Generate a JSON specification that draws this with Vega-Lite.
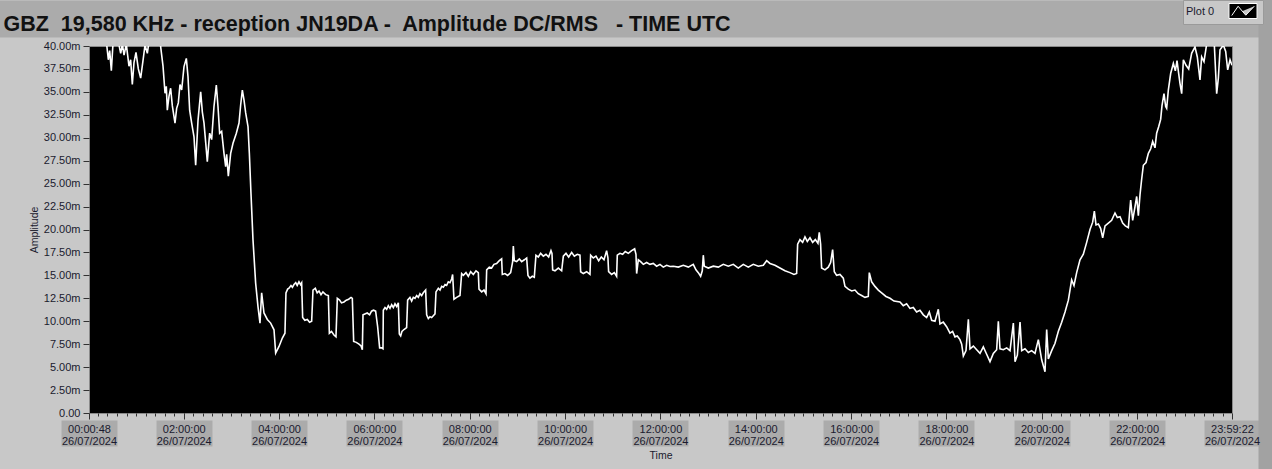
{
  "$schema": "https://vega.github.io/schema/vega-lite/v6.json",
  "width": 1143,
  "height": 367,
  "autosize": {"type": "none"},
  "padding": {"left": 89, "top": 46, "right": 40, "bottom": 56},
  "background": "#c8c8c8",
  "config": {
    "view": {"fill": "#000000", "stroke": "#8a8a8a", "strokeWidth": 1},
    "axis": {"labelFont": "Liberation Sans", "titleFont": "Liberation Sans", "grid": false}
  },
  "data": {
    "values": [
      {"hour": 0.013, "amplitude": 41.5},
      {"hour": 0.223, "amplitude": 42.0},
      {"hour": 0.377, "amplitude": 40.5},
      {"hour": 0.419, "amplitude": 38.5},
      {"hour": 0.447, "amplitude": 39.5},
      {"hour": 0.482, "amplitude": 37.3},
      {"hour": 0.517, "amplitude": 40.3},
      {"hour": 0.608, "amplitude": 41.0},
      {"hour": 0.678, "amplitude": 39.2},
      {"hour": 0.713, "amplitude": 40.2},
      {"hour": 0.748, "amplitude": 39.0},
      {"hour": 0.796, "amplitude": 40.2},
      {"hour": 0.852, "amplitude": 37.8},
      {"hour": 0.887, "amplitude": 38.5},
      {"hour": 0.922, "amplitude": 35.8},
      {"hour": 0.957, "amplitude": 38.2},
      {"hour": 0.999, "amplitude": 39.3},
      {"hour": 1.048, "amplitude": 37.5},
      {"hour": 1.097, "amplitude": 36.5},
      {"hour": 1.146, "amplitude": 38.4},
      {"hour": 1.188, "amplitude": 40.1},
      {"hour": 1.237, "amplitude": 39.2},
      {"hour": 1.272, "amplitude": 40.5},
      {"hour": 1.412, "amplitude": 42.0},
      {"hour": 1.503, "amplitude": 40.5},
      {"hour": 1.566, "amplitude": 37.8},
      {"hour": 1.608, "amplitude": 34.85},
      {"hour": 1.635, "amplitude": 35.6},
      {"hour": 1.656, "amplitude": 33.0},
      {"hour": 1.691, "amplitude": 34.5},
      {"hour": 1.726, "amplitude": 35.4},
      {"hour": 1.761, "amplitude": 33.5},
      {"hour": 1.817, "amplitude": 31.6},
      {"hour": 1.852, "amplitude": 33.2},
      {"hour": 1.887, "amplitude": 33.8},
      {"hour": 1.922, "amplitude": 35.8},
      {"hour": 1.957, "amplitude": 35.2},
      {"hour": 2.006, "amplitude": 37.75},
      {"hour": 2.055, "amplitude": 38.65},
      {"hour": 2.09, "amplitude": 36.65},
      {"hour": 2.125, "amplitude": 33.0},
      {"hour": 2.167, "amplitude": 31.6},
      {"hour": 2.216, "amplitude": 30.1},
      {"hour": 2.251, "amplitude": 27.0},
      {"hour": 2.3, "amplitude": 31.9},
      {"hour": 2.356, "amplitude": 35.0},
      {"hour": 2.391, "amplitude": 32.8},
      {"hour": 2.426, "amplitude": 31.6},
      {"hour": 2.461, "amplitude": 29.5},
      {"hour": 2.495, "amplitude": 27.4},
      {"hour": 2.544, "amplitude": 30.5},
      {"hour": 2.586, "amplitude": 29.8},
      {"hour": 2.635, "amplitude": 33.4},
      {"hour": 2.684, "amplitude": 35.75},
      {"hour": 2.719, "amplitude": 33.4},
      {"hour": 2.754, "amplitude": 30.5},
      {"hour": 2.796, "amplitude": 30.7},
      {"hour": 2.845, "amplitude": 28.3},
      {"hour": 2.88, "amplitude": 26.85},
      {"hour": 2.901, "amplitude": 28.2},
      {"hour": 2.936, "amplitude": 25.8},
      {"hour": 2.985, "amplitude": 28.3},
      {"hour": 3.034, "amplitude": 29.4},
      {"hour": 3.104, "amplitude": 30.5},
      {"hour": 3.16, "amplitude": 31.6},
      {"hour": 3.195, "amplitude": 33.6},
      {"hour": 3.23, "amplitude": 35.2},
      {"hour": 3.265, "amplitude": 34.1},
      {"hour": 3.3, "amplitude": 32.7},
      {"hour": 3.349, "amplitude": 31.2},
      {"hour": 3.377, "amplitude": 28.3},
      {"hour": 3.411, "amplitude": 23.96},
      {"hour": 3.453, "amplitude": 18.9},
      {"hour": 3.509, "amplitude": 14.16},
      {"hour": 3.558, "amplitude": 11.6},
      {"hour": 3.6, "amplitude": 9.8},
      {"hour": 3.635, "amplitude": 13.1},
      {"hour": 3.684, "amplitude": 10.9},
      {"hour": 3.754, "amplitude": 10.2},
      {"hour": 3.824, "amplitude": 9.8},
      {"hour": 3.894, "amplitude": 9.07},
      {"hour": 3.929, "amplitude": 6.53},
      {"hour": 3.999, "amplitude": 7.25},
      {"hour": 4.069, "amplitude": 8.17},
      {"hour": 4.124, "amplitude": 8.7},
      {"hour": 4.145, "amplitude": 13.1},
      {"hour": 4.18, "amplitude": 13.5},
      {"hour": 4.208, "amplitude": 13.6},
      {"hour": 4.25, "amplitude": 13.9},
      {"hour": 4.28, "amplitude": 13.7},
      {"hour": 4.313, "amplitude": 14.0},
      {"hour": 4.35, "amplitude": 14.2},
      {"hour": 4.38, "amplitude": 13.9},
      {"hour": 4.418, "amplitude": 14.3},
      {"hour": 4.45, "amplitude": 14.0},
      {"hour": 4.474, "amplitude": 14.2},
      {"hour": 4.495, "amplitude": 10.4},
      {"hour": 4.54, "amplitude": 10.1},
      {"hour": 4.593, "amplitude": 10.2},
      {"hour": 4.64, "amplitude": 9.9},
      {"hour": 4.684, "amplitude": 10.0},
      {"hour": 4.712, "amplitude": 13.4},
      {"hour": 4.76, "amplitude": 13.6},
      {"hour": 4.8, "amplitude": 13.1},
      {"hour": 4.838, "amplitude": 13.3},
      {"hour": 4.88, "amplitude": 12.9},
      {"hour": 4.92, "amplitude": 13.2},
      {"hour": 4.978, "amplitude": 12.9},
      {"hour": 5.034, "amplitude": 12.8},
      {"hour": 5.055, "amplitude": 8.7},
      {"hour": 5.1, "amplitude": 8.9},
      {"hour": 5.152, "amplitude": 8.5},
      {"hour": 5.194, "amplitude": 8.3},
      {"hour": 5.222, "amplitude": 12.5},
      {"hour": 5.27, "amplitude": 12.3},
      {"hour": 5.31, "amplitude": 12.0},
      {"hour": 5.362, "amplitude": 12.1},
      {"hour": 5.41, "amplitude": 12.3},
      {"hour": 5.46, "amplitude": 12.4},
      {"hour": 5.51, "amplitude": 12.6},
      {"hour": 5.537, "amplitude": 12.5},
      {"hour": 5.565, "amplitude": 7.8},
      {"hour": 5.62, "amplitude": 7.7},
      {"hour": 5.677, "amplitude": 7.5},
      {"hour": 5.72, "amplitude": 7.3},
      {"hour": 5.747, "amplitude": 6.9},
      {"hour": 5.761, "amplitude": 10.7},
      {"hour": 5.8, "amplitude": 10.8},
      {"hour": 5.85, "amplitude": 10.9},
      {"hour": 5.9, "amplitude": 10.7},
      {"hour": 5.94, "amplitude": 11.1},
      {"hour": 5.98, "amplitude": 11.2},
      {"hour": 6.026, "amplitude": 11.1},
      {"hour": 6.068, "amplitude": 9.4},
      {"hour": 6.11, "amplitude": 7.1},
      {"hour": 6.152, "amplitude": 7.1},
      {"hour": 6.18, "amplitude": 7.0},
      {"hour": 6.187, "amplitude": 11.2},
      {"hour": 6.222, "amplitude": 11.5},
      {"hour": 6.257, "amplitude": 11.3},
      {"hour": 6.292, "amplitude": 11.7},
      {"hour": 6.327, "amplitude": 11.4},
      {"hour": 6.362, "amplitude": 11.8},
      {"hour": 6.397, "amplitude": 11.5},
      {"hour": 6.432, "amplitude": 11.9},
      {"hour": 6.467, "amplitude": 11.6},
      {"hour": 6.502, "amplitude": 12.0},
      {"hour": 6.523, "amplitude": 8.6},
      {"hour": 6.551, "amplitude": 8.4},
      {"hour": 6.578, "amplitude": 8.9},
      {"hour": 6.62, "amplitude": 9.1},
      {"hour": 6.676, "amplitude": 9.3},
      {"hour": 6.697, "amplitude": 12.3},
      {"hour": 6.746, "amplitude": 12.6},
      {"hour": 6.781, "amplitude": 12.2},
      {"hour": 6.816, "amplitude": 12.6},
      {"hour": 6.851, "amplitude": 12.5},
      {"hour": 6.886, "amplitude": 12.8},
      {"hour": 6.921, "amplitude": 12.6},
      {"hour": 6.956, "amplitude": 13.0},
      {"hour": 6.991, "amplitude": 12.8},
      {"hour": 7.026, "amplitude": 13.1},
      {"hour": 7.075, "amplitude": 13.4},
      {"hour": 7.096, "amplitude": 10.7},
      {"hour": 7.131, "amplitude": 10.3},
      {"hour": 7.166, "amplitude": 10.5},
      {"hour": 7.201, "amplitude": 10.4},
      {"hour": 7.236, "amplitude": 10.6},
      {"hour": 7.271, "amplitude": 10.8},
      {"hour": 7.292, "amplitude": 13.2},
      {"hour": 7.341, "amplitude": 13.6},
      {"hour": 7.376, "amplitude": 13.4},
      {"hour": 7.411, "amplitude": 13.8},
      {"hour": 7.446, "amplitude": 13.7},
      {"hour": 7.481, "amplitude": 14.0},
      {"hour": 7.515, "amplitude": 13.9},
      {"hour": 7.55, "amplitude": 14.3},
      {"hour": 7.585, "amplitude": 14.2},
      {"hour": 7.62, "amplitude": 14.6},
      {"hour": 7.641, "amplitude": 15.1},
      {"hour": 7.669, "amplitude": 12.4},
      {"hour": 7.725, "amplitude": 12.6},
      {"hour": 7.795, "amplitude": 12.8},
      {"hour": 7.83, "amplitude": 15.2},
      {"hour": 7.865, "amplitude": 15.0},
      {"hour": 7.921, "amplitude": 15.3},
      {"hour": 7.97, "amplitude": 14.9},
      {"hour": 8.019, "amplitude": 15.4},
      {"hour": 8.075, "amplitude": 15.1},
      {"hour": 8.131, "amplitude": 15.5},
      {"hour": 8.18, "amplitude": 15.3},
      {"hour": 8.194, "amplitude": 13.5},
      {"hour": 8.25, "amplitude": 13.2},
      {"hour": 8.299, "amplitude": 13.4},
      {"hour": 8.341, "amplitude": 13.0},
      {"hour": 8.355, "amplitude": 15.6},
      {"hour": 8.41, "amplitude": 15.9},
      {"hour": 8.459, "amplitude": 15.8},
      {"hour": 8.508, "amplitude": 16.2},
      {"hour": 8.564, "amplitude": 16.3},
      {"hour": 8.62, "amplitude": 16.6},
      {"hour": 8.669, "amplitude": 16.8},
      {"hour": 8.683, "amplitude": 15.1},
      {"hour": 8.739, "amplitude": 15.2},
      {"hour": 8.795, "amplitude": 15.0},
      {"hour": 8.858, "amplitude": 15.3},
      {"hour": 8.9, "amplitude": 16.5},
      {"hour": 8.914, "amplitude": 18.2},
      {"hour": 8.935, "amplitude": 16.6},
      {"hour": 8.984, "amplitude": 16.5},
      {"hour": 9.04, "amplitude": 16.8},
      {"hour": 9.089, "amplitude": 16.5},
      {"hour": 9.145, "amplitude": 16.7},
      {"hour": 9.194, "amplitude": 16.9},
      {"hour": 9.221, "amplitude": 15.0},
      {"hour": 9.263, "amplitude": 14.7},
      {"hour": 9.312, "amplitude": 14.9},
      {"hour": 9.354, "amplitude": 14.8},
      {"hour": 9.389, "amplitude": 17.2},
      {"hour": 9.438, "amplitude": 17.0},
      {"hour": 9.487, "amplitude": 17.4},
      {"hour": 9.543, "amplitude": 17.1},
      {"hour": 9.599, "amplitude": 17.3},
      {"hour": 9.655, "amplitude": 17.0},
      {"hour": 9.704, "amplitude": 17.7},
      {"hour": 9.725, "amplitude": 17.4},
      {"hour": 9.739, "amplitude": 15.6},
      {"hour": 9.788, "amplitude": 15.5},
      {"hour": 9.858, "amplitude": 15.8},
      {"hour": 9.928, "amplitude": 15.5},
      {"hour": 9.963, "amplitude": 17.1},
      {"hour": 10.019, "amplitude": 17.4},
      {"hour": 10.075, "amplitude": 17.0},
      {"hour": 10.138, "amplitude": 17.5},
      {"hour": 10.194, "amplitude": 17.1},
      {"hour": 10.256, "amplitude": 17.3},
      {"hour": 10.312, "amplitude": 17.2},
      {"hour": 10.326, "amplitude": 15.4},
      {"hour": 10.382, "amplitude": 15.2},
      {"hour": 10.452, "amplitude": 15.4},
      {"hour": 10.522, "amplitude": 15.1},
      {"hour": 10.536, "amplitude": 17.2},
      {"hour": 10.592, "amplitude": 16.9},
      {"hour": 10.648, "amplitude": 17.1},
      {"hour": 10.704, "amplitude": 16.6},
      {"hour": 10.76, "amplitude": 17.0},
      {"hour": 10.816, "amplitude": 16.7},
      {"hour": 10.871, "amplitude": 17.7},
      {"hour": 10.899, "amplitude": 16.9},
      {"hour": 10.913, "amplitude": 15.4},
      {"hour": 10.976, "amplitude": 15.1},
      {"hour": 11.032, "amplitude": 15.3},
      {"hour": 11.081, "amplitude": 14.9},
      {"hour": 11.095, "amplitude": 17.2},
      {"hour": 11.151, "amplitude": 17.4},
      {"hour": 11.207, "amplitude": 17.3},
      {"hour": 11.263, "amplitude": 17.6},
      {"hour": 11.326, "amplitude": 17.4},
      {"hour": 11.396, "amplitude": 17.7},
      {"hour": 11.459, "amplitude": 17.9},
      {"hour": 11.487, "amplitude": 17.3},
      {"hour": 11.501, "amplitude": 15.2},
      {"hour": 11.536, "amplitude": 16.7},
      {"hour": 11.585, "amplitude": 16.5},
      {"hour": 11.641, "amplitude": 16.2},
      {"hour": 11.711, "amplitude": 16.4},
      {"hour": 11.78, "amplitude": 16.2},
      {"hour": 11.85, "amplitude": 16.3},
      {"hour": 11.92, "amplitude": 16.0},
      {"hour": 11.99, "amplitude": 16.2},
      {"hour": 12.06, "amplitude": 15.9},
      {"hour": 12.13, "amplitude": 16.1},
      {"hour": 12.2, "amplitude": 15.97},
      {"hour": 12.27, "amplitude": 16.0},
      {"hour": 12.375, "amplitude": 15.9},
      {"hour": 12.48, "amplitude": 16.1},
      {"hour": 12.585, "amplitude": 15.9},
      {"hour": 12.689, "amplitude": 16.2},
      {"hour": 12.745, "amplitude": 15.6},
      {"hour": 12.794, "amplitude": 15.3},
      {"hour": 12.843, "amplitude": 14.9},
      {"hour": 12.878, "amplitude": 15.5},
      {"hour": 12.899, "amplitude": 17.2},
      {"hour": 12.92, "amplitude": 16.0},
      {"hour": 13.004, "amplitude": 15.8},
      {"hour": 13.109, "amplitude": 16.0},
      {"hour": 13.214, "amplitude": 15.9},
      {"hour": 13.319, "amplitude": 16.2},
      {"hour": 13.424, "amplitude": 16.0},
      {"hour": 13.528, "amplitude": 16.2},
      {"hour": 13.633, "amplitude": 15.8},
      {"hour": 13.738, "amplitude": 16.2},
      {"hour": 13.843, "amplitude": 15.9},
      {"hour": 13.948, "amplitude": 16.2},
      {"hour": 14.053, "amplitude": 16.0},
      {"hour": 14.158, "amplitude": 16.1},
      {"hour": 14.228, "amplitude": 16.6},
      {"hour": 14.298, "amplitude": 16.3},
      {"hour": 14.402, "amplitude": 16.1},
      {"hour": 14.507, "amplitude": 15.8},
      {"hour": 14.612, "amplitude": 15.5},
      {"hour": 14.717, "amplitude": 15.3},
      {"hour": 14.801, "amplitude": 15.1},
      {"hour": 14.857, "amplitude": 15.2},
      {"hour": 14.878, "amplitude": 18.4},
      {"hour": 14.927, "amplitude": 18.9},
      {"hour": 14.983, "amplitude": 18.6},
      {"hour": 15.032, "amplitude": 19.2},
      {"hour": 15.081, "amplitude": 18.7},
      {"hour": 15.137, "amplitude": 19.1},
      {"hour": 15.193, "amplitude": 18.6},
      {"hour": 15.249, "amplitude": 18.9},
      {"hour": 15.304, "amplitude": 18.5},
      {"hour": 15.332, "amplitude": 19.7},
      {"hour": 15.36, "amplitude": 18.4},
      {"hour": 15.381, "amplitude": 15.8},
      {"hour": 15.451, "amplitude": 15.6},
      {"hour": 15.521, "amplitude": 15.9},
      {"hour": 15.57, "amplitude": 16.4},
      {"hour": 15.612, "amplitude": 17.8},
      {"hour": 15.647, "amplitude": 15.4},
      {"hour": 15.696, "amplitude": 15.0},
      {"hour": 15.766, "amplitude": 15.1},
      {"hour": 15.836, "amplitude": 14.7},
      {"hour": 15.871, "amplitude": 13.8},
      {"hour": 15.941, "amplitude": 13.5},
      {"hour": 16.011, "amplitude": 13.3},
      {"hour": 16.081, "amplitude": 13.4},
      {"hour": 16.15, "amplitude": 13.0},
      {"hour": 16.22, "amplitude": 12.8},
      {"hour": 16.29, "amplitude": 12.6},
      {"hour": 16.36, "amplitude": 12.7},
      {"hour": 16.381, "amplitude": 15.3},
      {"hour": 16.43, "amplitude": 14.3},
      {"hour": 16.5, "amplitude": 13.8},
      {"hour": 16.57, "amplitude": 13.4},
      {"hour": 16.64, "amplitude": 13.1},
      {"hour": 16.731, "amplitude": 12.7},
      {"hour": 16.815, "amplitude": 12.5},
      {"hour": 16.899, "amplitude": 12.2},
      {"hour": 17.024, "amplitude": 12.1},
      {"hour": 17.094, "amplitude": 11.7},
      {"hour": 17.164, "amplitude": 11.9},
      {"hour": 17.234, "amplitude": 11.4},
      {"hour": 17.304, "amplitude": 11.5},
      {"hour": 17.374, "amplitude": 11.0},
      {"hour": 17.444, "amplitude": 11.2},
      {"hour": 17.514, "amplitude": 10.7},
      {"hour": 17.584, "amplitude": 10.4},
      {"hour": 17.64, "amplitude": 11.0},
      {"hour": 17.689, "amplitude": 10.1},
      {"hour": 17.759, "amplitude": 10.0},
      {"hour": 17.829, "amplitude": 11.3},
      {"hour": 17.864, "amplitude": 9.7},
      {"hour": 17.933, "amplitude": 9.9},
      {"hour": 18.003, "amplitude": 9.4},
      {"hour": 18.073, "amplitude": 8.7},
      {"hour": 18.129, "amplitude": 8.9},
      {"hour": 18.178, "amplitude": 8.3},
      {"hour": 18.227, "amplitude": 8.4},
      {"hour": 18.283, "amplitude": 8.0},
      {"hour": 18.319, "amplitude": 7.5},
      {"hour": 18.354, "amplitude": 6.2},
      {"hour": 18.41, "amplitude": 6.8},
      {"hour": 18.459, "amplitude": 10.2},
      {"hour": 18.494, "amplitude": 7.0},
      {"hour": 18.564, "amplitude": 7.3},
      {"hour": 18.634, "amplitude": 6.9},
      {"hour": 18.704, "amplitude": 6.5},
      {"hour": 18.773, "amplitude": 7.2},
      {"hour": 18.843, "amplitude": 6.4},
      {"hour": 18.913, "amplitude": 5.6},
      {"hour": 18.983, "amplitude": 6.5},
      {"hour": 19.053, "amplitude": 6.9},
      {"hour": 19.088, "amplitude": 10.0},
      {"hour": 19.123, "amplitude": 7.0},
      {"hour": 19.193, "amplitude": 6.9},
      {"hour": 19.263, "amplitude": 7.1},
      {"hour": 19.333, "amplitude": 6.8},
      {"hour": 19.403, "amplitude": 9.8},
      {"hour": 19.438, "amplitude": 5.6},
      {"hour": 19.487, "amplitude": 6.3},
      {"hour": 19.543, "amplitude": 9.9},
      {"hour": 19.578, "amplitude": 6.8},
      {"hour": 19.647, "amplitude": 7.0},
      {"hour": 19.717, "amplitude": 6.6},
      {"hour": 19.787, "amplitude": 6.8},
      {"hour": 19.857, "amplitude": 6.5},
      {"hour": 19.927, "amplitude": 8.0},
      {"hour": 19.997, "amplitude": 5.8},
      {"hour": 20.067, "amplitude": 4.5},
      {"hour": 20.102, "amplitude": 9.1},
      {"hour": 20.137, "amplitude": 5.9},
      {"hour": 20.207, "amplitude": 6.8},
      {"hour": 20.277, "amplitude": 7.6},
      {"hour": 20.347, "amplitude": 8.9},
      {"hour": 20.417, "amplitude": 9.9},
      {"hour": 20.487, "amplitude": 11.0},
      {"hour": 20.557, "amplitude": 12.3},
      {"hour": 20.626, "amplitude": 14.5},
      {"hour": 20.675, "amplitude": 13.9},
      {"hour": 20.731, "amplitude": 15.3},
      {"hour": 20.801, "amplitude": 16.7},
      {"hour": 20.871, "amplitude": 17.3},
      {"hour": 20.941, "amplitude": 18.6},
      {"hour": 21.011, "amplitude": 20.0},
      {"hour": 21.067, "amplitude": 20.8},
      {"hour": 21.102, "amplitude": 22.0},
      {"hour": 21.137, "amplitude": 20.5},
      {"hour": 21.186, "amplitude": 20.6},
      {"hour": 21.235, "amplitude": 20.1},
      {"hour": 21.277, "amplitude": 19.1},
      {"hour": 21.326, "amplitude": 20.4},
      {"hour": 21.396, "amplitude": 20.7},
      {"hour": 21.465, "amplitude": 21.0},
      {"hour": 21.535, "amplitude": 21.8},
      {"hour": 21.584, "amplitude": 21.3},
      {"hour": 21.64, "amplitude": 21.4},
      {"hour": 21.696, "amplitude": 20.7},
      {"hour": 21.752, "amplitude": 20.4},
      {"hour": 21.815, "amplitude": 20.2},
      {"hour": 21.864, "amplitude": 23.2},
      {"hour": 21.906, "amplitude": 21.0},
      {"hour": 21.955, "amplitude": 22.5},
      {"hour": 21.99, "amplitude": 23.6},
      {"hour": 22.025, "amplitude": 21.5},
      {"hour": 22.06, "amplitude": 23.8},
      {"hour": 22.095, "amplitude": 25.5},
      {"hour": 22.13, "amplitude": 27.0},
      {"hour": 22.186, "amplitude": 27.3},
      {"hour": 22.235, "amplitude": 28.3},
      {"hour": 22.284, "amplitude": 28.8},
      {"hour": 22.325, "amplitude": 29.6},
      {"hour": 22.374, "amplitude": 28.9},
      {"hour": 22.409, "amplitude": 30.5},
      {"hour": 22.451, "amplitude": 31.2},
      {"hour": 22.493, "amplitude": 32.0},
      {"hour": 22.521, "amplitude": 33.5},
      {"hour": 22.563, "amplitude": 34.8},
      {"hour": 22.598, "amplitude": 33.4},
      {"hour": 22.619, "amplitude": 33.2},
      {"hour": 22.654, "amplitude": 35.2},
      {"hour": 22.703, "amplitude": 37.0},
      {"hour": 22.759, "amplitude": 38.1},
      {"hour": 22.801, "amplitude": 37.3},
      {"hour": 22.836, "amplitude": 38.4},
      {"hour": 22.871, "amplitude": 37.0},
      {"hour": 22.899, "amplitude": 35.9},
      {"hour": 22.934, "amplitude": 34.8},
      {"hour": 22.969, "amplitude": 38.5},
      {"hour": 23.025, "amplitude": 37.9},
      {"hour": 23.081, "amplitude": 37.5},
      {"hour": 23.143, "amplitude": 39.2},
      {"hour": 23.213, "amplitude": 39.9},
      {"hour": 23.262, "amplitude": 38.8},
      {"hour": 23.318, "amplitude": 36.3},
      {"hour": 23.353, "amplitude": 38.8},
      {"hour": 23.402, "amplitude": 38.3},
      {"hour": 23.458, "amplitude": 40.2},
      {"hour": 23.542, "amplitude": 41.0},
      {"hour": 23.619, "amplitude": 40.1},
      {"hour": 23.668, "amplitude": 34.8},
      {"hour": 23.703, "amplitude": 36.5},
      {"hour": 23.738, "amplitude": 39.6},
      {"hour": 23.808, "amplitude": 40.1},
      {"hour": 23.857, "amplitude": 39.4},
      {"hour": 23.899, "amplitude": 37.4},
      {"hour": 23.948, "amplitude": 38.5},
      {"hour": 23.989, "amplitude": 37.9}
    ]
  },
  "layer": [
    {
      "mark": {"type": "line", "color": "#ffffff", "strokeWidth": 1.6, "clip": true, "interpolate": "linear"},
      "encoding": {
        "x": {
          "field": "hour",
          "type": "quantitative",
          "scale": {"domain": [0.013333, 23.989444], "nice": false, "zero": false},
          "axis": {
            "orient": "bottom",
            "values": [0.013333, 2, 4, 6, 8, 10, 12, 14, 16, 18, 20, 22, 23.989444],
            "labelExpr": "datum.value < 1 ? ['00:00:48', '26/07/2024'] : datum.value > 23.5 ? ['23:59:22', '26/07/2024'] : [(datum.value < 10 ? '0' : '') + datum.value + ':00:00', '26/07/2024']",
            "labelFontSize": 11,
            "labelColor": "#1a1a2e",
            "labelLineHeight": 12,
            "labelPadding": 4,
            "labelOverlap": false,
            "labelFlush": false,
            "labelBound": false,
            "tickSize": 6,
            "tickColor": "#333333",
            "domain": false,
            "zindex": 1,
            "title": "Time",
            "titleFontSize": 10.5,
            "titleFontWeight": "normal",
            "titleColor": "#1a1a2e",
            "titlePadding": 4
          }
        },
        "y": {
          "field": "amplitude",
          "type": "quantitative",
          "scale": {"domain": [0, 40], "nice": false, "zero": false},
          "axis": {
            "orient": "left",
            "values": [0, 2.5, 5, 7.5, 10, 12.5, 15, 17.5, 20, 22.5, 25, 27.5, 30, 32.5, 35, 37.5, 40],
            "labelExpr": "datum.value == 0 ? '0.00' : format(datum.value, '.2f') + 'm'",
            "labelFontSize": 11,
            "labelColor": "#1a1a2e",
            "labelPadding": 3,
            "labelOverlap": false,
            "labelFlush": false,
            "labelBound": false,
            "tickSize": 6,
            "tickColor": "#333333",
            "domain": false,
            "title": "Amplitude",
            "titleFontSize": 10.5,
            "titleFontWeight": "normal",
            "titleColor": "#1a1a2e",
            "titlePadding": 4
          }
        },
        "color": {
          "datum": "Plot 0",
          "type": "nominal",
          "scale": {"range": ["#ffffff"]},
          "legend": {
            "orient": "none",
            "legendX": 1094,
            "legendY": -46,
            "title": "Plot 0",
            "titleOrient": "left",
            "titleFont": "Liberation Sans",
            "titleFontSize": 11,
            "titleFontWeight": "normal",
            "titleColor": "#1a1a2e",
            "titleBaseline": "middle",
            "titlePadding": 20,
            "labelExpr": "''",
            "labelOffset": 0,
            "symbolType": "M-1.87,-1H1.87V1H-1.87Z M-1.5,0.6L-0.65,-0.63L0.37,0.56L1.5,-0.63",
            "symbolSize": 225,
            "symbolStrokeWidth": 1,
            "fillColor": "#c8c8c8",
            "strokeColor": "#9a9a9a",
            "padding": 3,
            "zindex": 2,
            "encode": {
              "symbols": {
                "update": {
                  "fill": {"value": "#000000"},
                  "stroke": {"value": "#ffffff"},
                  "strokeWidth": {"value": 1}
                }
              }
            }
          }
        }
      }
    },
    {
      "transform": [{"filter": "false"}],
      "mark": {"type": "rule"},
      "encoding": {
        "x": {
          "field": "hour",
          "type": "quantitative",
          "axis": {
            "orient": "bottom",
            "tickCount": 120,
            "labels": false,
            "domain": false,
            "tickSize": 3,
            "tickColor": "#333333",
            "title": null,
            "zindex": 1
          }
        }
      }
    },
    {
      "transform": [{"filter": "false"}],
      "mark": {"type": "rule"},
      "encoding": {
        "x": {
          "field": "hour",
          "type": "quantitative",
          "axis": {
            "orient": "bottom",
            "values": [0.013333, 2, 4, 6, 8, 10, 12, 14, 16, 18, 20, 22, 23.989444],
            "labels": false,
            "domain": false,
            "offset": 7,
            "tickSize": 26,
            "tickWidth": 56,
            "tickColor": "#ababab",
            "tickCap": "butt",
            "title": null,
            "zindex": 0
          }
        }
      }
    },
    {
      "transform": [{"filter": "false"}],
      "mark": {"type": "rule"},
      "encoding": {
        "x": {
          "field": "hour",
          "type": "quantitative",
          "axis": {
            "orient": "top",
            "values": [12],
            "labels": false,
            "domain": false,
            "offset": 9,
            "tickSize": 37,
            "tickWidth": 1500,
            "tickColor": "#ababab",
            "tickCap": "butt",
            "title": "GBZ\u00a0 19,580 KHz - reception JN19DA -\u00a0 Amplitude DC/RMS\u00a0\u00a0 - TIME UTC",
            "titleX": -86,
            "titleY": -7,
            "titleAlign": "left",
            "titleAnchor": null,
            "titleAngle": 0,
            "titleBaseline": "alphabetic",
            "titleFont": "Liberation Sans",
            "titleFontSize": 21.5,
            "titleFontWeight": "bold",
            "titleColor": "#111111",
            "zindex": 0
          }
        },
        "y": {
          "field": "amplitude",
          "type": "quantitative",
          "axis": {
            "orient": "right",
            "values": [19.47],
            "labels": false,
            "domain": false,
            "offset": 26,
            "tickSize": 14,
            "tickWidth": 469,
            "tickColor": "#a2a2a2",
            "tickCap": "butt",
            "title": null,
            "zindex": 0
          }
        }
      }
    }
  ],
  "resolve": {"axis": {"x": "independent", "y": "independent"}}
}
